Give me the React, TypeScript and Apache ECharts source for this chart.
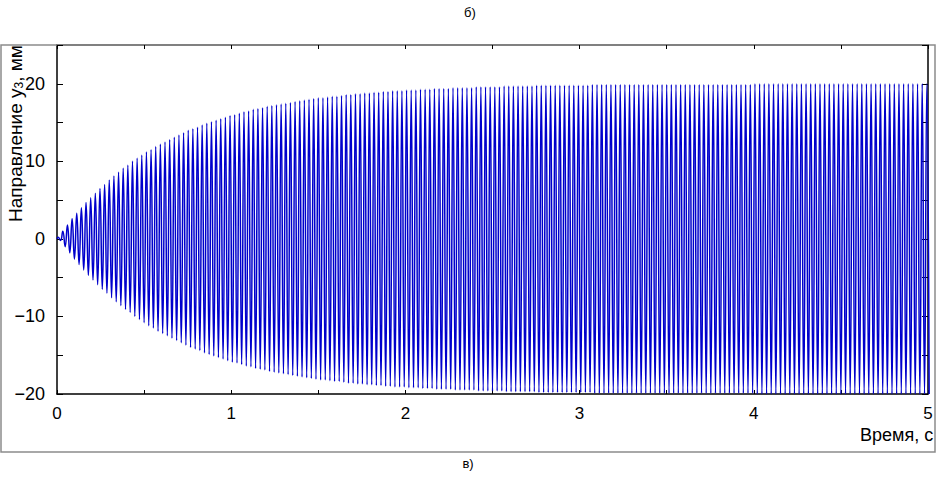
import React, { useEffect, useRef } from "react";
import * as echarts from "echarts";

// Peak amplitude (mm) of each oscillation cycle
const CYCLE_AMPLITUDE: number[] = [
  0.2, 1.0, 1.8, 2.6, 3.3, 4.0, 4.7, 5.3, 5.9, 6.5,
  7.0, 7.6, 8.1, 8.6, 9.1, 9.5, 10.0, 10.4, 10.8, 11.2,
  11.5, 11.9, 12.2, 12.5, 12.8, 13.1, 13.4, 13.7, 14.0, 14.2,
  14.4, 14.7, 14.9, 15.1, 15.3, 15.5, 15.7, 15.9, 16.0, 16.2,
  16.4, 16.5, 16.7, 16.8, 16.9, 17.1, 17.2, 17.3, 17.4, 17.5,
  17.6, 17.7, 17.8, 17.9, 18.0, 18.1, 18.2, 18.2, 18.3, 18.4,
  18.4, 18.5, 18.6, 18.6, 18.7, 18.7, 18.8, 18.8, 18.9, 18.9,
  19.0, 19.0, 19.1, 19.1, 19.1, 19.2, 19.2, 19.2, 19.3, 19.3,
  19.3, 19.4, 19.4, 19.4, 19.4, 19.5, 19.5, 19.5, 19.5, 19.5,
  19.6, 19.6, 19.6, 19.6, 19.6, 19.6, 19.7, 19.7, 19.7, 19.7,
  19.7, 19.7, 19.7, 19.8, 19.8, 19.8, 19.8, 19.8, 19.8, 19.8,
  19.8, 19.8, 19.8, 19.8, 19.8, 19.9, 19.9, 19.9, 19.9, 19.9,
  19.9, 19.9, 19.9, 19.9, 19.9, 19.9, 19.9, 19.9, 19.9, 19.9,
  19.9, 19.9, 19.9, 19.9, 19.9, 19.9, 19.9, 19.9, 19.9, 19.9,
  19.9, 19.9, 19.9, 19.9, 19.9, 19.9, 19.9, 19.9, 19.9, 19.9,
  20.0, 20.0, 20.0, 20.0, 20.0, 20.0, 20.0, 20.0, 20.0, 20.0,
  20.0, 20.0, 20.0, 20.0, 20.0, 20.0, 20.0, 20.0, 20.0, 20.0,
  20.0, 20.0, 20.0, 20.0, 20.0, 20.0, 20.0, 20.0, 20.0, 20.0,
  20.0, 20.0, 20.0, 20.0, 20.0, 20.0, 20.0, 20.0,
];

// Oscillation frequency (cycles per second)
const FREQUENCY_HZ = 37.5;

const X_TICK_LABELS = ["0", "1", "2", "3", "4", "5"];
const Y_TICK_LABELS = ["-20", "-10", "0", "10", "20"];

const X_AXIS_TITLE = "Время, с";
const PANEL_TOP = "б)";
const PANEL_BOTTOM = "в)";

const FONT = "'Liberation Sans', Arial, sans-serif";

function buildPoints(): [number, number][] {
  const pts: [number, number][] = [[0, 0]];
  CYCLE_AMPLITUDE.forEach((a, i) => {
    pts.push([(i + 0.25) / FREQUENCY_HZ, a]);
    pts.push([(i + 0.75) / FREQUENCY_HZ, -a]);
  });
  return pts;
}

export default function App() {
  const ref = useRef<HTMLDivElement>(null);

  useEffect(() => {
    if (!ref.current) return;
    const chart = echarts.init(ref.current, null, { renderer: "svg" });
    const xLabelSet = new Set(X_TICK_LABELS);
    const yLabelSet = new Set(Y_TICK_LABELS);
    const fmt = (v: number) => (v < 0 ? "\u2212" + Math.abs(v) : String(v));

    chart.setOption({
      animation: false,
      backgroundColor: "#fff",
      grid: {
        left: 57,
        right: 8,
        top: 45,
        bottom: 84,
        containLabel: false,
        outerBoundsMode: "none",
      },
      xAxis: [
        {
          type: "value",
          min: 0,
          max: 5,
          interval: 0.5,
          position: "bottom",
          axisLine: { onZero: false, lineStyle: { color: "#000", width: 1.5 } },
          splitLine: { show: false },
          axisTick: { inside: true, length: 4, lineStyle: { color: "#000", width: 1 } },
          axisLabel: {
            color: "#000",
            fontSize: 17,
            fontFamily: FONT,
            margin: 11,
            showMaxLabel: true,
            showMinLabel: true,
            formatter: (v: number) => (xLabelSet.has(String(v)) ? String(v) : ""),
          },
        },
        {
          type: "value",
          min: 0,
          max: 5,
          interval: 0.5,
          position: "top",
          axisLine: { onZero: false, lineStyle: { color: "#808080", width: 2 } },
          splitLine: { show: false },
          axisTick: { inside: true, length: 4, lineStyle: { color: "#000", width: 1 } },
          axisLabel: { show: false },
        },
      ],
      yAxis: [
        {
          type: "value",
          min: -20,
          max: 25,
          interval: 5,
          position: "left",
          axisLine: { onZero: false, lineStyle: { color: "#000", width: 1.5 } },
          splitLine: { show: false },
          axisTick: { inside: true, length: 6, lineStyle: { color: "#000", width: 1 } },
          axisLabel: {
            color: "#000",
            fontSize: 18,
            fontFamily: FONT,
            margin: 12,
            formatter: (v: number) => (yLabelSet.has(String(v)) ? fmt(v) : ""),
          },
        },
        {
          type: "value",
          min: -20,
          max: 25,
          interval: 5,
          position: "right",
          axisLine: { onZero: false, lineStyle: { color: "#000", width: 1.5 } },
          splitLine: { show: false },
          axisTick: { inside: true, length: 6, lineStyle: { color: "#000", width: 1 } },
          axisLabel: { show: false },
        },
      ],
      series: [
        {
          type: "line",
          xAxisIndex: 0,
          yAxisIndex: 0,
          data: buildPoints(),
          smooth: 0.5,
          showSymbol: false,
          symbol: "none",
          clip: true,
          lineStyle: { color: "#0000cc", width: 1.5 },
        },
      ],
      graphic: [
        {
          type: "rect",
          silent: true,
          z: -1,
          shape: { x: 1, y: 45, width: 934, height: 407 },
          style: { fill: "none", stroke: "#8c8c8c", lineWidth: 1.5 },
        },
        {
          type: "text",
          x: 470,
          y: 12,
          style: {
            text: PANEL_TOP,
            fill: "#000",
            font: "13px 'Liberation Sans', Arial, sans-serif",
            align: "center",
            verticalAlign: "middle",
          },
        },
        {
          type: "text",
          x: 468,
          y: 463,
          style: {
            text: PANEL_BOTTOM,
            fill: "#000",
            font: "13px 'Liberation Sans', Arial, sans-serif",
            align: "center",
            verticalAlign: "middle",
          },
        },
        {
          type: "text",
          x: 860,
          y: 435,
          style: {
            text: X_AXIS_TITLE,
            fill: "#000",
            font: "18px 'Liberation Sans', Arial, sans-serif",
            align: "left",
            verticalAlign: "middle",
          },
        },
        {
          type: "text",
          x: 15,
          y: 222,
          rotation: Math.PI / 2,
          style: {
            text: "{n|Направление y}{s|3}{n|, мм}",
            align: "left",
            verticalAlign: "middle",
            rich: {
              n: { fontSize: 19, fontFamily: FONT, fill: "#000", color: "#000" },
              s: {
                fontSize: 12,
                fontFamily: FONT,
                fill: "#000",
                color: "#000",
                padding: [8, 0, 0, 0],
              },
            },
          },
        },
      ],
    });

    return () => chart.dispose();
  }, []);

  return (
    <div style={{ position: "fixed", left: 0, top: 0, width: 936, height: 478, background: "#fff" }}>
      <div ref={ref} style={{ width: 936, height: 478 }} />
    </div>
  );
}
